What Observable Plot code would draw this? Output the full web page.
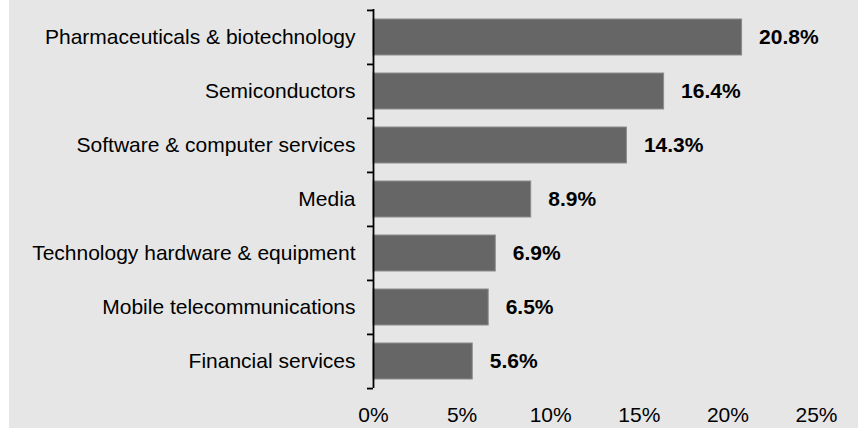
<!DOCTYPE html>
<html>
<head>
<meta charset="utf-8">
<script src="https://cdn.jsdelivr.net/npm/d3@7"></script>
<script src="https://cdn.jsdelivr.net/npm/@observablehq/plot@0.6"></script>
<style>
  html, body { margin: 0; padding: 0; background: #ffffff; }
  #chart { position: absolute; left: 9px; top: 0; }
  #chart svg { display: block; background: #e6e6e6; }
</style>
</head>
<body>
<div id="chart"></div>
<script>
const categories = [
  "Pharmaceuticals & biotechnology",
  "Semiconductors",
  "Software & computer services",
  "Media",
  "Technology hardware & equipment",
  "Mobile telecommunications",
  "Financial services"
];
const values = [20.8, 16.4, 14.3, 8.9, 6.9, 6.5, 5.6];
const xTicks = [0, 5, 10, 15, 20, 25];

const data = categories.map((c, i) => ({category: c, value: values[i]}));

const W = 849, H = 428, mt = 9, mb = 40, ml = 364, mr = 42;
const step = (H - mt - mb) / categories.length;
const font = "'Liberation Sans', Arial, sans-serif";

const chart = Plot.plot({
  width: W,
  height: H,
  marginTop: mt,
  marginBottom: mb,
  marginLeft: ml,
  marginRight: mr,
  style: {fontFamily: font, background: "#e6e6e6", color: "#000"},
  x: {domain: [0, 25], label: null},
  y: {domain: categories, paddingInner: 0.335, paddingOuter: 0.1675, label: null},
  marks: [
    Plot.barX(data, {x: "value", y: "category", fill: "#666666", stroke: "#8c8c8c", strokeWidth: 1}),
    Plot.ruleX([0], {stroke: "#000", strokeWidth: 1.8}),
    Plot.axisY({ticks: categories, tickSize: 6, text: null, label: null, dy: -step / 2, strokeWidth: 1.8, stroke: "#000"}),
    Plot.axisY({ticks: [categories[categories.length - 1]], tickSize: 6, text: null, label: null, dy: step / 2, strokeWidth: 1.8, stroke: "#000"}),
    Plot.axisY({tickSize: 0, tickPadding: 18, fontSize: 21, fill: "#000", label: null}),
    Plot.axisX({ticks: xTicks, tickSize: 0, tickPadding: 19, fontSize: 21, fill: "#000", tickFormat: d => d + "%", label: null}),
    Plot.text(data, {x: "value", y: "category", text: d => d.value.toFixed(1) + "%", dx: 17, textAnchor: "start", fontWeight: "bold", fontSize: 21, fill: "#000"})
  ]
});
document.getElementById("chart").appendChild(chart);
</script>
</body>
</html>
